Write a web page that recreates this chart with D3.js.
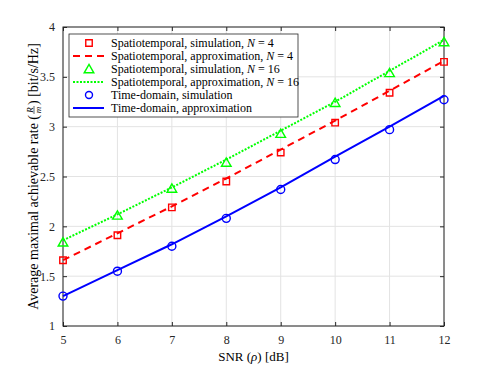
<!DOCTYPE html>
<html>
<head>
<meta charset="utf-8">
<script src="https://cdn.jsdelivr.net/npm/d3@7"></script>
<style>
  body { margin: 0; background: #fff; }
  svg text { font-family: 'Liberation Serif', 'Times New Roman', serif !important; }
</style>
</head>
<body>
<svg id="chart" width="491" height="368"></svg>
<script>
// data
var snr = [5, 6, 7, 8, 9, 10, 11, 12];
var st4Sim = [1.66, 1.91, 2.19, 2.45, 2.74, 3.04, 3.34, 3.65];
var st4Apx = [1.66, 1.93, 2.20, 2.48, 2.77, 3.06, 3.36, 3.66];
var st16Sim = [1.84, 2.11, 2.38, 2.64, 2.93, 3.24, 3.54, 3.85];
var st16Apx = [1.86, 2.12, 2.39, 2.67, 2.96, 3.25, 3.56, 3.87];
var tdSim = [1.30, 1.55, 1.80, 2.08, 2.37, 2.67, 2.97, 3.27];
var tdApx = [1.30, 1.56, 1.82, 2.10, 2.39, 2.70, 3.00, 3.31];
var xTicks = [5, 6, 7, 8, 9, 10, 11, 12];
var yTicks = [1, 1.5, 2, 2.5, 3, 3.5, 4];

var svg = d3.select('#chart'),
    margin = {left: 63, right: 47, top: 27, bottom: 42},
    width = 491 - margin.left - margin.right,
    height = 368 - margin.top - margin.bottom;

var x = d3.scaleLinear().domain([5, 12]).range([0, width]),
    y = d3.scaleLinear().domain([1, 4]).range([height, 0]);

var g = svg.append('g').attr('transform', 'translate(' + margin.left + ',' + margin.top + ')');

// grid
g.append('g').selectAll('line').data(xTicks).enter().append('line')
  .attr('x1', d => x(d)).attr('x2', d => x(d)).attr('y1', 0).attr('y2', height)
  .attr('stroke', '#e3e3e3').attr('stroke-width', 1);
g.append('g').selectAll('line').data(yTicks).enter().append('line')
  .attr('y1', d => y(d)).attr('y2', d => y(d)).attr('x1', 0).attr('x2', width)
  .attr('stroke', '#e3e3e3').attr('stroke-width', 1);

// axes with inward ticks, box all round
function styleAxis(sel) {
  sel.attr('font-family', null);
  sel.select('.domain').remove();
  sel.selectAll('line').attr('stroke', '#262626');
  sel.selectAll('text').style('font-size', '12px').attr('fill', '#262626');
}
var fmt = d => String(d);
g.append('g').attr('transform', 'translate(0,' + height + ')')
  .call(d3.axisBottom(x).tickValues(xTicks).tickSizeInner(-4).tickSizeOuter(0).tickPadding(9).tickFormat(fmt))
  .call(styleAxis);
g.append('g')
  .call(d3.axisTop(x).tickValues(xTicks).tickSizeInner(-4).tickSizeOuter(0).tickFormat(''))
  .call(styleAxis);
g.append('g')
  .call(d3.axisLeft(y).tickValues(yTicks).tickSizeInner(-4).tickSizeOuter(0).tickPadding(8).tickFormat(fmt))
  .call(styleAxis);
g.append('g').attr('transform', 'translate(' + width + ',0)')
  .call(d3.axisRight(y).tickValues(yTicks).tickSizeInner(-4).tickSizeOuter(0).tickFormat(''))
  .call(styleAxis);
g.append('rect').attr('width', width).attr('height', height)
  .attr('fill', 'none').attr('stroke', '#262626').attr('stroke-width', 1);

// lines
var line = d3.line().x((d, i) => x(snr[i])).y(d => y(d));
g.append('path').datum(tdApx).attr('d', line).attr('fill', 'none')
  .attr('stroke', '#0000ff').attr('stroke-width', 2);
g.append('path').datum(st4Apx).attr('d', line).attr('fill', 'none')
  .attr('stroke', '#ff0000').attr('stroke-width', 2).attr('stroke-dasharray', '7,5');
g.append('path').datum(st16Apx).attr('d', line).attr('fill', 'none')
  .attr('stroke', '#00ff00').attr('stroke-width', 2).attr('stroke-dasharray', '2,1.5');

// markers
var sq = d3.symbol().type(d3.symbolSquare).size(42),
    tri = d3.symbol().type(d3.symbolTriangle).size(40);
g.append('g').selectAll('path').data(st4Sim).enter().append('path')
  .attr('d', sq).attr('transform', (d, i) => 'translate(' + x(snr[i]) + ',' + y(d) + ')')
  .attr('fill', 'none').attr('stroke', '#ff0000').attr('stroke-width', 1.4);
g.append('g').selectAll('path').data(st16Sim).enter().append('path')
  .attr('d', tri).attr('transform', (d, i) => 'translate(' + x(snr[i]) + ',' + (y(d) + 1) + ')')
  .attr('fill', 'none').attr('stroke', '#00ff00').attr('stroke-width', 1.4);
g.append('g').selectAll('circle').data(tdSim).enter().append('circle')
  .attr('cx', (d, i) => x(snr[i])).attr('cy', d => y(d)).attr('r', 4)
  .attr('fill', 'none').attr('stroke', '#0000ff').attr('stroke-width', 1.4);

// legend
var entries = [
  {label: ['Spatiotemporal, simulation, ', 'N', ' = 4'], kind: 'sq'},
  {label: ['Spatiotemporal, approximation, ', 'N', ' = 4'], kind: 'dash'},
  {label: ['Spatiotemporal, simulation, ', 'N', ' = 16'], kind: 'tri'},
  {label: ['Spatiotemporal, approximation, ', 'N', ' = 16'], kind: 'dot'},
  {label: ['Time-domain, simulation'], kind: 'circ'},
  {label: ['Time-domain, approximation'], kind: 'solid'}
];
var leg = svg.append('g').attr('transform', 'translate(69,34)');
leg.append('rect').attr('width', 229).attr('height', 83)
  .attr('fill', '#fff').attr('stroke', '#262626').attr('stroke-width', 0.8);
entries.forEach(function (e, i) {
  var cy = 9 + i * 13;
  var row = leg.append('g');
  if (e.kind === 'sq') row.append('path').attr('d', sq).attr('transform', 'translate(20,' + cy + ')')
    .attr('fill', 'none').attr('stroke', '#ff0000').attr('stroke-width', 1.4);
  if (e.kind === 'tri') row.append('path').attr('d', tri).attr('transform', 'translate(20,' + (cy + 1) + ')')
    .attr('fill', 'none').attr('stroke', '#00ff00').attr('stroke-width', 1.4);
  if (e.kind === 'circ') row.append('circle').attr('cx', 20).attr('cy', cy).attr('r', 3.5)
    .attr('fill', 'none').attr('stroke', '#0000ff').attr('stroke-width', 1.4);
  var ls = {dash: ['#ff0000', '7,5'], dot: ['#00ff00', '2,1.5'], solid: ['#0000ff', null]}[e.kind];
  if (ls) row.append('line').attr('x1', 4).attr('x2', 35).attr('y1', cy).attr('y2', cy)
    .attr('stroke', ls[0]).attr('stroke-width', 2).attr('stroke-dasharray', ls[1]);
  var t = row.append('text').attr('x', 42).attr('y', cy + 4).style('font-size', '12px').attr('fill', '#000');
  e.label.forEach(function (s, k) {
    t.append('tspan').text(s).style('font-style', k === 1 ? 'italic' : 'normal');
  });
});

// x label
var xl = svg.append('text').attr('x', margin.left + width / 2).attr('y', 361)
  .attr('text-anchor', 'middle').style('font-size', '13px').attr('fill', '#000');
xl.append('tspan').text('SNR (');
xl.append('tspan').text('ρ').style('font-style', 'italic');
xl.append('tspan').text(') [dB]');

// y label with small fraction R/m
var yl = svg.append('g').attr('transform', 'translate(34,' + (margin.top + height / 2) + ') rotate(-90)');
var parts = yl.append('g');
var t1 = parts.append('text').attr('x', 0).attr('y', 0).style('font-size', '14px').attr('fill', '#000')
  .text('Average maximal achievable rate (');
var w1 = t1.node().getComputedTextLength();
var fx = w1 + 5;
parts.append('text').attr('x', fx).attr('y', -5.5).attr('text-anchor', 'middle')
  .style('font-size', '9px').style('font-style', 'italic').attr('fill', '#000').text('R');
parts.append('line').attr('x1', fx - 4).attr('x2', fx + 4).attr('y1', -4).attr('y2', -4)
  .attr('stroke', '#000').attr('stroke-width', 0.6);
parts.append('text').attr('x', fx).attr('y', 3).attr('text-anchor', 'middle')
  .style('font-size', '9px').style('font-style', 'italic').attr('fill', '#000').text('m');
var t3 = parts.append('text').attr('x', fx + 5).attr('y', 0).style('font-size', '14px').attr('fill', '#000')
  .text(') [bit/s/Hz]');
var total = fx + 5 + t3.node().getComputedTextLength();
parts.attr('transform', 'translate(' + (-total / 2) + ',4)');
</script>
</body>
</html>
